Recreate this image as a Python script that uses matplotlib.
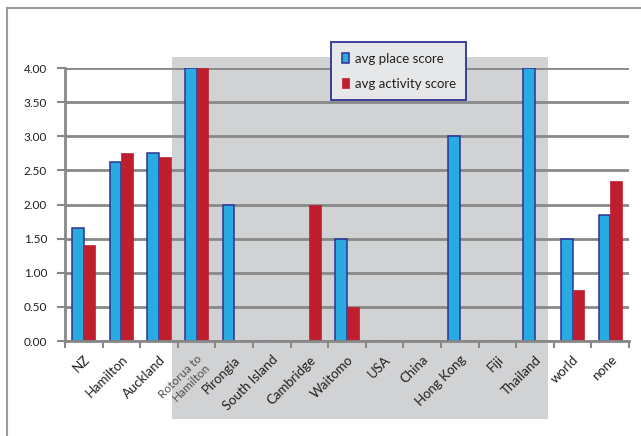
import matplotlib
matplotlib.use("Agg")
import matplotlib.pyplot as plt
from matplotlib.patches import Rectangle
from matplotlib.lines import Line2D
import numpy as np

plt.rcParams['font.family'] = ['Lato', 'DejaVu Sans']

places = ["NZ", "Hamilton", "Auckland", "Rotorua to\nHamilton", "Pirongia",
          "South Island", "Cambridge", "Waitomo", "USA", "China", "Hong Kong",
          "Fiji", "Thailand", "world", "none"]
place_score = [1.65, 2.63, 2.75, 4.00, 2.00, 0, 0, 1.50, 0, 0, 3.00, 0, 4.00, 1.50, 1.85]
activity_score = [1.40, 2.76, 2.70, 4.00, 0, 0, 2.00, 0.50, 0, 0, 0, 0, 0, 0.75, 2.35]
y_ticks = [0.0, 0.5, 1.0, 1.5, 2.0, 2.5, 3.0, 3.5, 4.0]

blue = "#29abe2"
blue_edge = "#2e3192"
red = "#be1e2d"
grid_grey = "#888888"
text_col = "#231f20"

fig = plt.figure(figsize=(6.41, 4.36), dpi=100)
ax = fig.add_axes([65 / 641, 1 - 341 / 436, 564 / 641, 273 / 436])

centers = np.arange(len(places)) + 0.5
w = 0.31
ax.bar(centers - w / 2, place_score, width=w, color=blue, edgecolor=blue_edge,
       linewidth=1.1, zorder=2, label="avg place score")
ax.bar(centers + w / 2, activity_score, width=w, color=red, edgecolor=red,
       linewidth=0.5, zorder=2, label="avg activity score")

# shaded block behind the middle group of places
ax.add_patch(Rectangle((2.85, -1.15), 10.0, 5.31, facecolor="#d1d2d4",
                       edgecolor="none", zorder=0.2, clip_on=False))

ax.set_xlim(0, len(places))
ax.set_ylim(0, 4)
ax.set_axisbelow(True)
ax.yaxis.grid(True, color=grid_grey, linewidth=2)
ax.set_yticks(y_ticks)
ax.set_yticklabels([f"{v:.2f}" for v in y_ticks], fontsize=8.5, color=text_col)

ax.set_xticks(np.arange(len(places) + 1))
ax.set_xticklabels([])
ax.set_xticks(centers, minor=True)
ax.set_xticklabels(places, minor=True, rotation=45, ha="right",
                   rotation_mode="anchor", fontsize=9.5, color=text_col)
ax.tick_params(axis="x", which="minor", length=0, pad=9)
ax.tick_params(axis="x", which="major", length=5, width=1.5, color=grid_grey)
ax.tick_params(axis="y", length=6, width=1.5, color=grid_grey, pad=7)

lbl = ax.get_xticklabels(minor=True)[3]
lbl.set_fontsize(8.5)
lbl.set_color("#505050")
lbl.set_linespacing(1.0)

for side in ("top", "right"):
    ax.spines[side].set_visible(False)
for side in ("left", "bottom"):
    ax.spines[side].set_color(grid_grey)
    ax.spines[side].set_linewidth(2)

leg = fig.legend(loc="upper left", bbox_to_anchor=(331 / 641, 1 - 42 / 436),
                 frameon=True, fancybox=False, edgecolor=blue_edge,
                 facecolor="#e6e7e8", framealpha=1, fontsize=9.5,
                 handlelength=0.6, handleheight=0.8, handletextpad=0.4,
                 labelspacing=1.0, borderpad=0.8, borderaxespad=0)
leg.get_frame().set_linewidth(1.3)
for t in leg.get_texts():
    t.set_color(text_col)

# outer chart border
fig.add_artist(Line2D([7 / 641, 7 / 641], [0, 1 - 8 / 436], color="#9a9a9a",
                      linewidth=1.5, transform=fig.transFigure))
fig.add_artist(Line2D([7 / 641, 1], [1 - 8 / 436, 1 - 8 / 436], color="#9a9a9a",
                      linewidth=1.5, transform=fig.transFigure))

fig.savefig("out.png", dpi=100)
